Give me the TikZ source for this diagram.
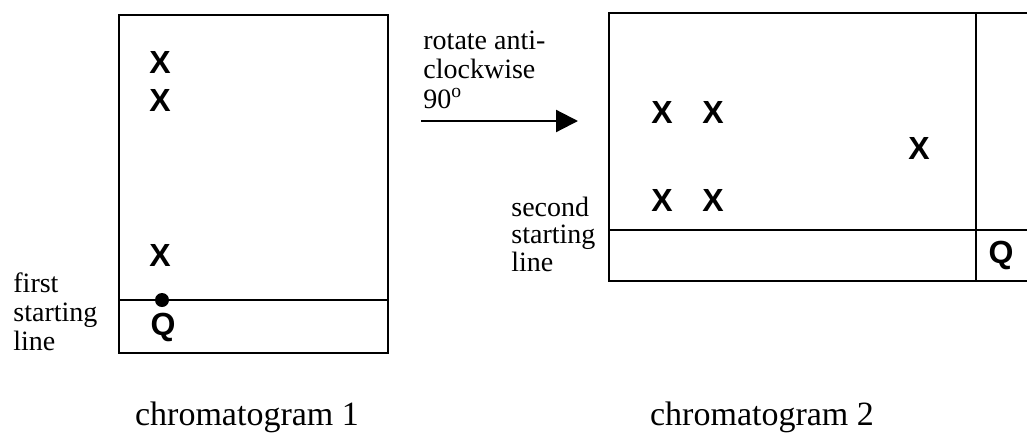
\documentclass[tikz,border=0pt]{standalone}
\usepackage{fontspec}
\setmainfont{Liberation Serif}
\newfontfamily\spotfont{Liberation Sans}
\usetikzlibrary{arrows.meta}

\tikzset{
  paper/.style={line width=1.1pt, black},
  lbl/.style={anchor=base west, inner sep=0pt, font=\fontsize{14}{14.5}\selectfont},
  spot/.style={inner sep=0pt, font=\spotfont\bfseries\fontsize{16}{16}\selectfont},
  caption/.style={anchor=base, inner sep=0pt, font=\fontsize{17}{18}\selectfont},
  turn/.style={line width=1.1pt, -{Triangle[length=11pt,width=11pt]}}
}

\begin{document}
\begin{tikzpicture}[x=0.5pt, y=-0.5pt]
  \useasboundingbox (0,0) rectangle (1027,434);

  % chromatogram 1: paper, starting line and spots
  \draw[paper] (119,15) rectangle (388,353);
  \coordinate (s1L) at (119,300);
  \coordinate (s1R) at (388,300);
  \draw[paper] (s1L) -- (s1R);
  \fill (162,300) circle (7);
  \node[spot] (x1a) at (160,62) {X};
  \node[spot] (x1b) at (160,100) {X};
  \node[spot] (x1c) at (160,255) {X};
  \node[spot] (q1) at (163,327) {Q};

  \node[lbl] (f1) at (13,292) {first};
  \node[lbl] (f2) at (13,321) {starting};
  \node[lbl] (f3) at (13,350) {line};

  % rotation arrow and its label
  \node[lbl] (r1) at (423,49) {rotate anti-};
  \node[lbl] (r2) at (423,78) {clockwise};
  \node[lbl] (r3) at (423,108) {90\textsuperscript{o}};
  \coordinate (arrS) at (421,121);
  \coordinate (arrE) at (578,121);
  \draw[turn] (arrS) -- (arrE);

  % chromatogram 2: paper runs on past the right edge
  \draw[paper] (1030,13) -- (609,13) -- (609,281) -- (1030,281);
  \coordinate (s2L) at (609,230);
  \coordinate (s2R) at (1030,230);
  \draw[paper] (s2L) -- (s2R);
  \coordinate (v2T) at (976,13);
  \coordinate (v2B) at (976,281);
  \draw[paper] (v2T) -- (v2B);
  \node[spot] (x2a) at (662,112) {X};
  \node[spot] (x2b) at (713,112) {X};
  \node[spot] (x2c) at (662,200) {X};
  \node[spot] (x2d) at (713,200) {X};
  \node[spot] (x2e) at (919,148) {X};
  \node[spot] (q2) at (1001,255) {Q};

  \node[lbl] (g1) at (511,216) {second};
  \node[lbl] (g2) at (511,243) {starting};
  \node[lbl] (g3) at (511,271) {line};

  % captions
  \node[caption] (c1) at (247,425) {chromatogram 1};
  \node[caption] (c2) at (762,425) {chromatogram 2};
\end{tikzpicture}
\end{document}
